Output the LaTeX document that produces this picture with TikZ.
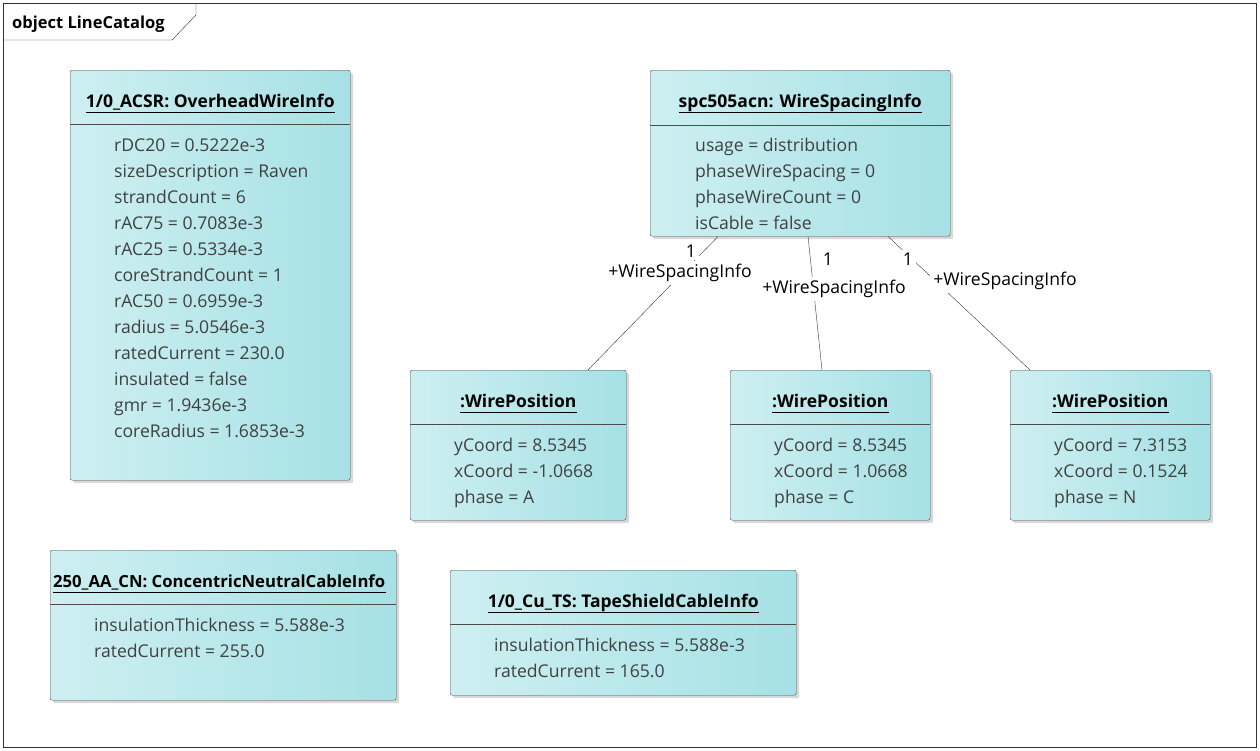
\documentclass[tikz,border=0pt]{standalone}
\usepackage{fontspec}
\setmainfont{Open Sans}
\usepackage{xcolor}
\usepackage{tikz}
\usetikzlibrary{calc,positioning,shadows}
\definecolor{boxleft}{RGB}{206,239,241}
\definecolor{boxright}{RGB}{166,225,229}
\definecolor{attrgray}{RGB}{64,64,64}

\begin{document}
\begin{tikzpicture}[
    x=1pt, y=-1pt,
    font=\fontsize{17.6}{26}\selectfont,
    object/.style={
        % the box
        anchor=north west,
        inner sep=0pt,
        rounded corners=2pt,
        draw=black!70,
        % the fill
        left color=boxleft,
        right color=boxright,
        drop shadow={shadow xshift=3pt, shadow yshift=-3pt, opacity=.3}},
    objname/.style={font=\fontsize{17.5}{26}\selectfont\bfseries, anchor=base, inner sep=0pt},
    attr/.style={text=attrgray, anchor=base west, inner sep=0pt},
    divider/.style={draw=black!70},
    assoc/.style={draw=black!80},
    role/.style={fill=white, inner sep=3pt}
  ]
  \useasboundingbox (0,0) rectangle (1260,750);
  % frame
  \draw[black!80] (3,3) rectangle (1256,747);
  \draw[black!80] (3,40) -- (172,40) -- (196,15) -- (196,3);
  \node[anchor=base west, inner sep=0pt, font=\fontsize{16.5}{20}\selectfont\bfseries] (frame title) at (12,28) {object LineCatalog};

  % 1/0_ACSR
  \node[object, minimum width=280, minimum height=410] (acsr) at (70,70) {};
  \node[objname] (acsr name) at ($(acsr.north)+(0,37)$) {1/0\_ACSR: OverheadWireInfo};
  \draw[divider] ($(acsr.north west)+(0,54)$) -- ($(acsr.north east)+(0,54)$);
  \foreach \a [count=\i] in {rDC20 = 0.5222e-3, sizeDescription = Raven, strandCount = 6,
      rAC75 = 0.7083e-3, rAC25 = 0.5334e-3, coreStrandCount = 1, rAC50 = 0.6959e-3,
      radius = 5.0546e-3, ratedCurrent = 230.0, insulated = false, gmr = 1.9436e-3,
      coreRadius = 1.6853e-3}
    \node[attr] (acsr a\i) at ($(acsr.north west)+(44,55+26*\i)$) {\a};

  % spc505acn
  \node[object, minimum width=300, minimum height=166] (spc) at (650,70) {};
  \node[objname] (spc name) at ($(spc.north)+(0,37)$) {spc505acn: WireSpacingInfo};
  \draw[divider] ($(spc.north west)+(0,55)$) -- ($(spc.north east)+(0,55)$);
  \foreach \a [count=\i] in {usage = distribution, phaseWireSpacing = 0,
      phaseWireCount = 0, isCable = false}
    \node[attr] (spc a\i) at ($(spc.north west)+(45,55+26*\i)$) {\a};

  % wire positions
  \node[object, minimum width=216, minimum height=150] (wp1) at (410,370) {};
  \node[object, minimum width=200, minimum height=150] (wp2) at (730,370) {};
  \node[object, minimum width=200, minimum height=150] (wp3) at (1010,370) {};
  \foreach \w/\y/\x/\p in {wp1/8.5345/-1.0668/A, wp2/8.5345/1.0668/C, wp3/7.3153/0.1524/N}{
    \node[objname] (\w\space name) at ($(\w.north)+(0,37)$) {:WirePosition};
    \draw[divider] ($(\w.north west)+(0,54)$) -- ($(\w.north east)+(0,54)$);
    \node[attr] (\w\space a1) at ($(\w.north west)+(44,81)$) {yCoord = \y};
    \node[attr] (\w\space a2) at ($(\w.north west)+(44,107)$) {xCoord = \x};
    \node[attr] (\w\space a3) at ($(\w.north west)+(44,133)$) {phase = \p};
  }

  % cables
  \node[object, minimum width=346, minimum height=150] (cn) at (50,550) {};
  \node[objname, font=\fontsize{16.7}{26}\selectfont\bfseries] (cn name) at ($(cn.north)+(-4,37)$) {250\_AA\_CN: ConcentricNeutralCableInfo};
  \draw[divider] ($(cn.north west)+(0,54)$) -- ($(cn.north east)+(0,54)$);
  \node[attr] (cn a1) at ($(cn.north west)+(44,81)$) {insulationThickness = 5.588e-3};
  \node[attr] (cn a2) at ($(cn.north west)+(44,107)$) {ratedCurrent = 255.0};

  \node[object, minimum width=346, minimum height=125] (ts) at (450,570) {};
  \node[objname] (ts name) at ($(ts.north)+(0,37)$) {1/0\_Cu\_TS: TapeShieldCableInfo};
  \draw[divider] ($(ts.north west)+(0,54)$) -- ($(ts.north east)+(0,54)$);
  \node[attr] (ts a1) at ($(ts.north west)+(44,81)$) {insulationThickness = 5.588e-3};
  \node[attr] (ts a2) at ($(ts.north west)+(44,107)$) {ratedCurrent = 165.0};

  % underline the object names
  \foreach \n in {acsr,spc,wp1,wp2,wp3,cn,ts}
    \draw ([yshift=-5pt]\n\space name.base west) -- ([yshift=-5pt]\n\space name.base east);

  % associations
  \draw[assoc] ([xshift=68pt]spc.south west) -- ([xshift=178pt]wp1.north west);
  \draw[assoc] ([xshift=158pt]spc.south west) -- ([xshift=92pt]wp2.north west);
  \draw[assoc] ([xshift=238pt]spc.south west) -- ([xshift=20pt]wp3.north west);
  \node[role] (m1) at (691,251) {1};
  \node[role] (r1) at (680,273) {+WireSpacingInfo};
  \node[role] (m2) at (828,259) {1};
  \node[role] (r2) at (834,289) {+WireSpacingInfo};
  \node[role] (m3) at (908,259) {1};
  \node[role] (r3) at (1005,281) {+WireSpacingInfo};
\end{tikzpicture}
\end{document}
